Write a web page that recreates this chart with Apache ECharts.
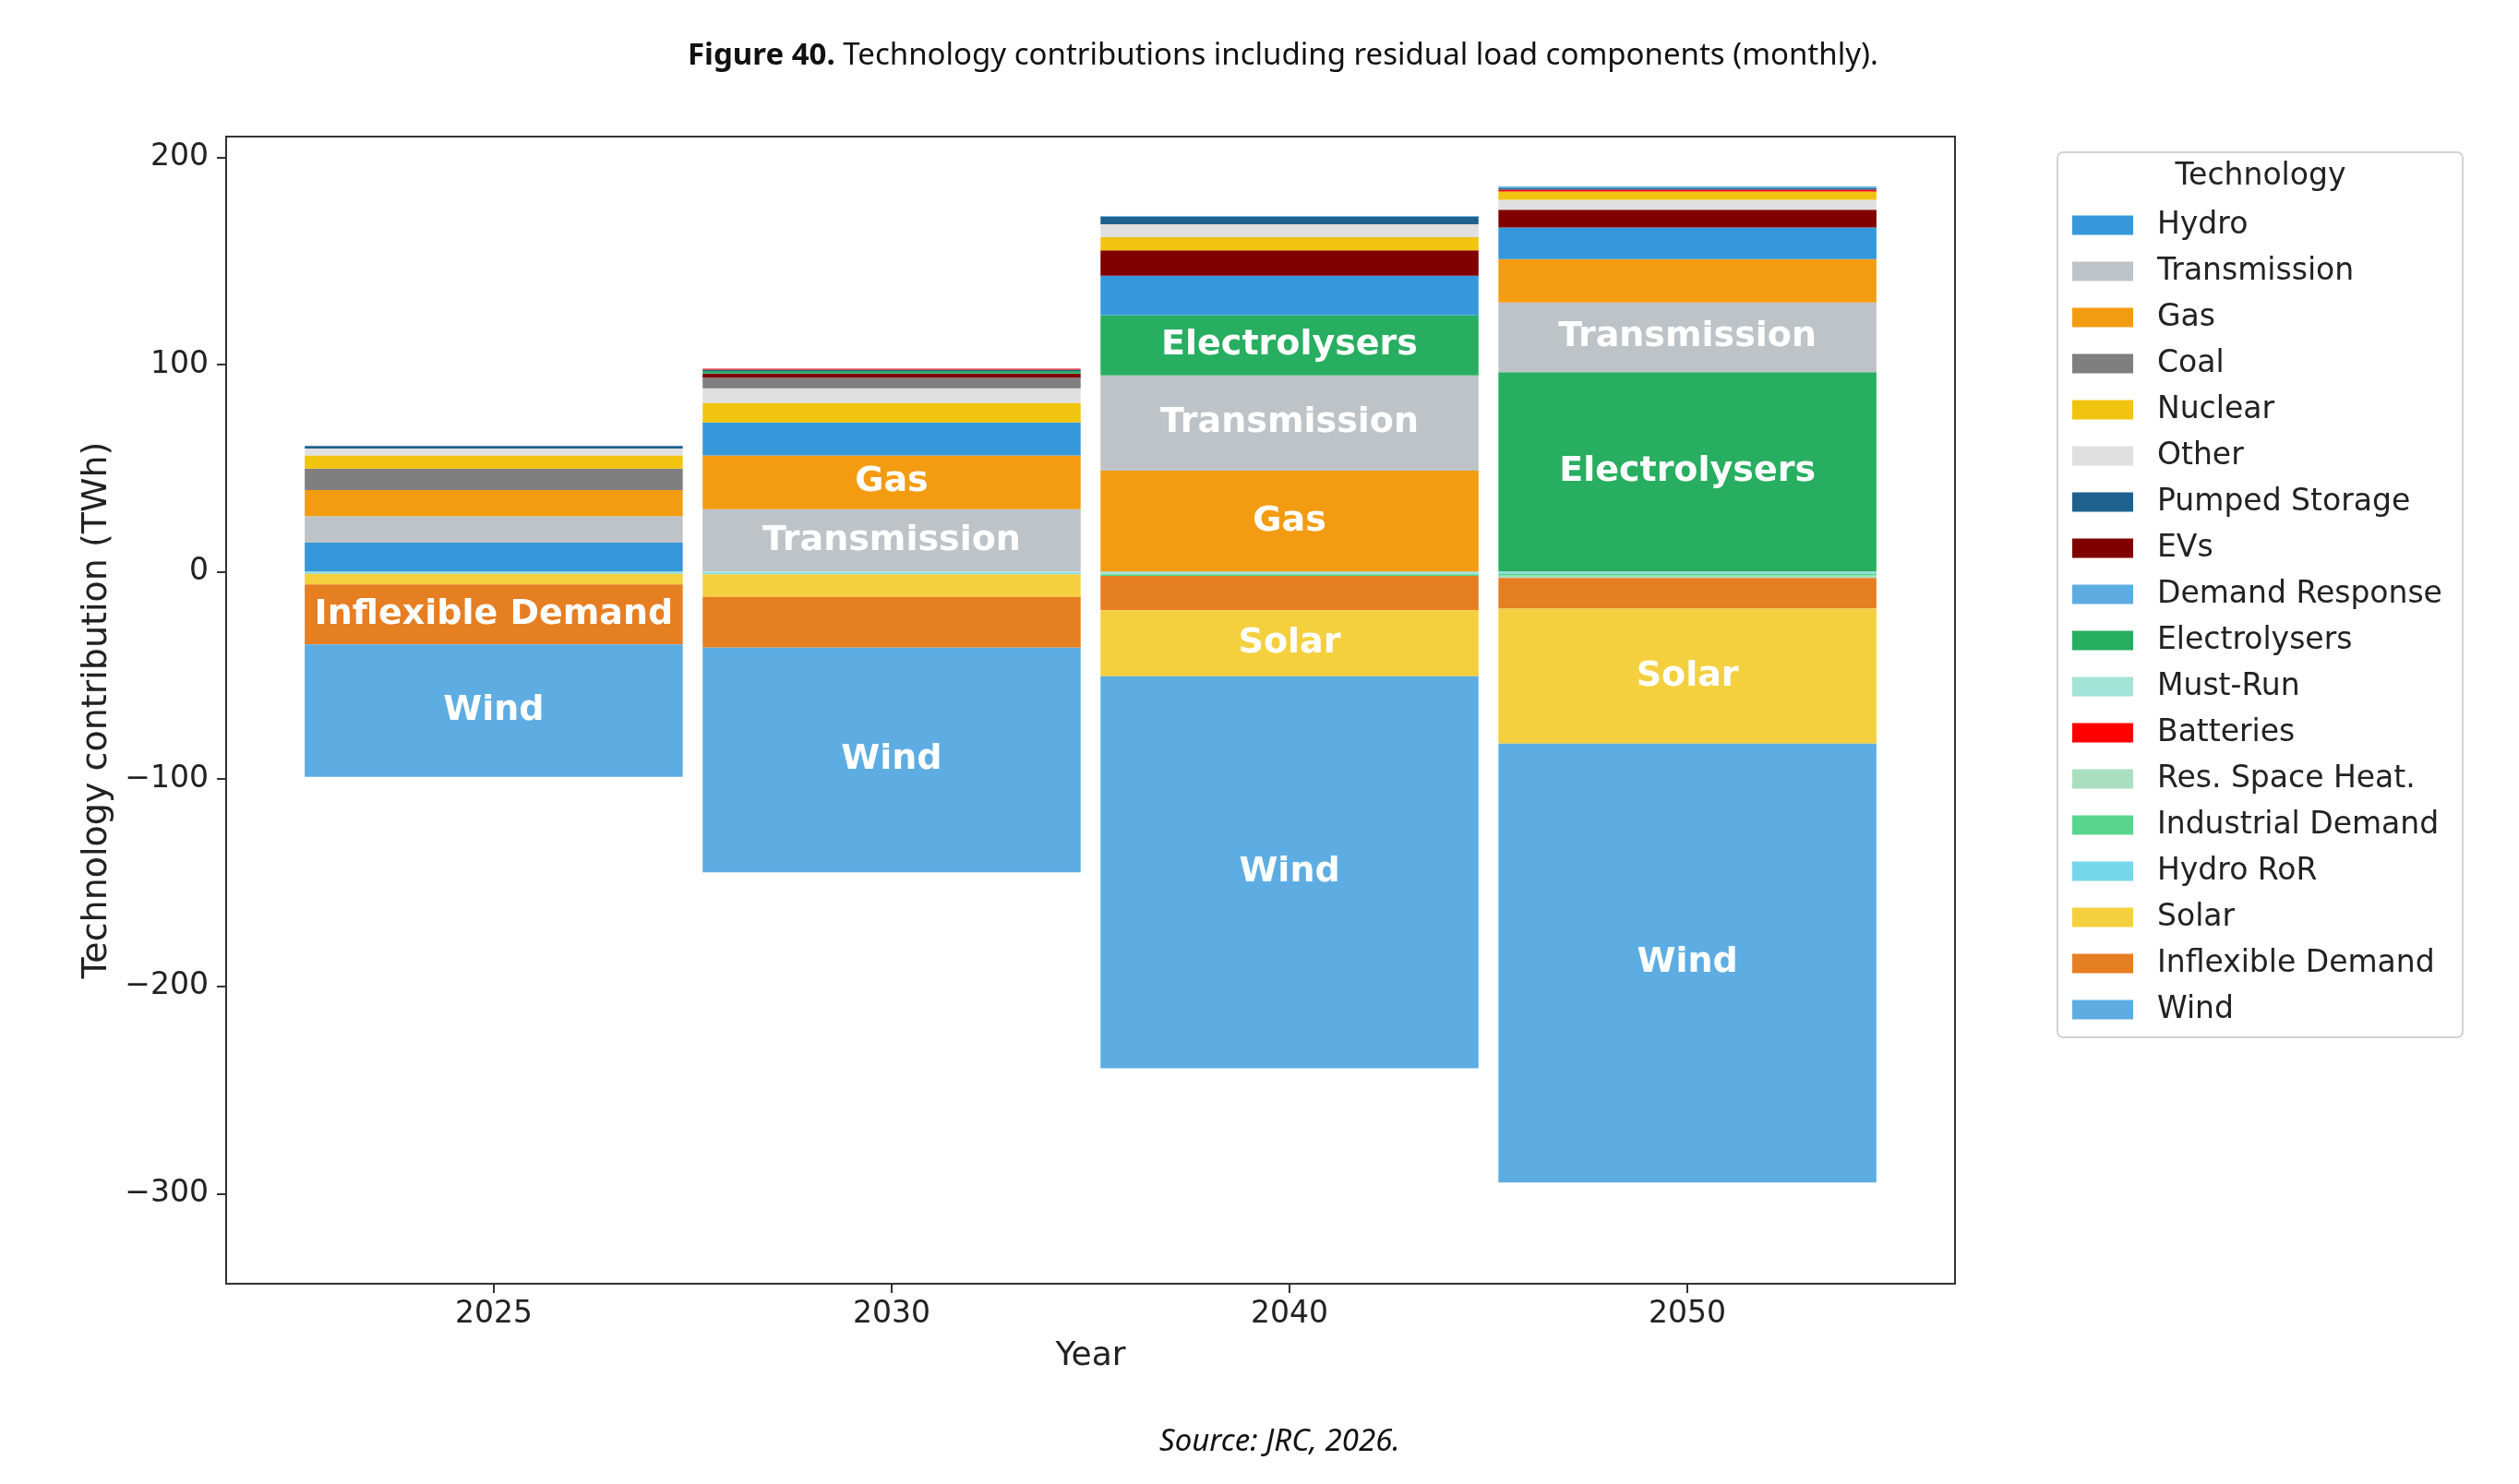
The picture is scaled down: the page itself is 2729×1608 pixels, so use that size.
<!DOCTYPE html>
<html lang="en">
<head>
<meta charset="UTF-8">
<title>Technology contributions including residual load components</title>
<script src="https://cdn.jsdelivr.net/npm/echarts@6/dist/echarts.min.js"></script>
<style>
  html, body { margin: 0; padding: 0; background: #fff; }
  #chart { width: 2729px; height: 1608px; }
</style>
</head>
<body>
<div id="chart"></div>
<script>
// years on the x axis and y tick labels
var years = ['2025', '2030', '2040', '2050'];
var yTicks = [-300, -200, -100, 0, 100, 200];

// legend order
var techs = ['Hydro', 'Transmission', 'Gas', 'Coal', 'Nuclear', 'Other', 'Pumped Storage', 'EVs',
  'Demand Response', 'Electrolysers', 'Must-Run', 'Batteries', 'Res. Space Heat.', 'Industrial Demand',
  'Hydro RoR', 'Solar', 'Inflexible Demand', 'Wind'];
var colors = ['#3498db', '#bdc3c7', '#f39c12', '#7f7f7f', '#f1c40f', '#e0e0e0', '#1f618d', '#800000',
  '#5dade2', '#27ae60', '#a3e4d7', '#ff0000', '#a9dfbf', '#58d68d', '#76d7ea', '#f4d03f', '#e67e22', '#5dade2'];

// TWh, one value per year (2025, 2030, 2040, 2050)
var hydro = [14.1, 15.9, 19.1, 15.2];
var transmission = [12.8, 30.2, 46.0, 33.7];
var gas = [12.5, 26.0, 48.8, 20.9];
var coal = [10.4, 5.1, 0, 0];
var nuclear = [6.4, 9.4, 6.4, 4.05];
var other = [3.3, 7.1, 6.2, 4.75];
var pumpedStorage = [1.2, 0.7, 3.7, 0.8];
var evs = [0, 2.0, 12.2, 8.6];
var demandResponse = [0, 0, 0.3, 0.7];
var electrolysers = [0, 1.2, 29.0, 96.3];
var mustRun = [-0.3, -0.4, -0.3, -0.3];
var batteries = [0, 0.4, 0, 0.9];
var resSpaceHeat = [0, 0, -0.5, -1.2];
var industrialDemand = [0, 0, -0.8, -1.0];
var hydroRoR = [-0.7, -0.8, -0.4, -0.5];
var solar = [-5.1, -10.9, -31.8, -65.1];
var inflexibleDemand = [-28.9, -24.5, -16.6, -14.8];
var wind = [-63.9, -108.4, -189.1, -211.7];

var values = [hydro, transmission, gas, coal, nuclear, other, pumpedStorage, evs, demandResponse,
  electrolysers, mustRun, batteries, resSpaceHeat, industrialDemand, hydroRoR, solar, inflexibleDemand, wind];

// each year is stacked largest value first, so one series per tech per year
var series = [];
years.forEach(function (y, yi) {
  var order = techs.map(function (t, ti) { return ti; });
  order.sort(function (a, b) { return values[b][yi] - values[a][yi]; });
  order.forEach(function (ti) {
    var v = values[ti][yi];
    series.push({
      name: techs[ti],
      type: 'bar',
      stack: 'total',
      barWidth: '95%',
      itemStyle: { color: colors[ti] },
      label: {
        show: Math.abs(v) >= 25,
        position: 'inside',
        formatter: techs[ti],
        color: '#fff',
        fontWeight: 'bold',
        fontSize: 38,
        fontFamily: 'DejaVu Sans'
      },
      data: years.map(function (_, j) { return j === yi ? v : '-'; })
    });
  });
});

var FONT = 'DejaVu Sans';
var axisColor = '#333';
// plot frame (matplotlib axes box) and the category band area inside it
var frame = { left: 245, top: 148, width: 1873, height: 1243 };
var unit = frame.width / 4.345;            // x data range -0.6725 .. 3.6725
var bandLeft = frame.left + 0.1725 * unit;  // edge of first category band (-0.5)

var myChart = echarts.init(document.getElementById('chart'));
myChart.setOption({
  animation: false,
  backgroundColor: '#fff',
  textStyle: { fontFamily: FONT },
  title: [{
    text: '{b|Figure 40.} Technology contributions including residual load components (monthly).',
    left: 745,
    top: 44,
    padding: 0,
    textStyle: {
      fontFamily: 'Noto Sans', fontSize: 33, fontWeight: 'normal', color: '#111',
      rich: { b: { fontFamily: 'Noto Sans', fontSize: 33, fontWeight: 'bold', color: '#111' } }
    }
  }, {
    text: 'Source: JRC, 2026.',
    left: 1256,
    top: 1546,
    padding: 0,
    textStyle: { fontFamily: 'Noto Sans', fontSize: 33, fontStyle: 'italic', fontWeight: 'normal', color: '#111' }
  }],
  grid: {
    left: bandLeft, top: frame.top, width: unit * 4, height: frame.height
  },
  xAxis: {
    type: 'category',
    data: years,
    axisLine: { show: false, onZero: false },
    axisTick: { show: true, alignWithLabel: true, length: 10, lineStyle: { color: axisColor, width: 2 } },
    axisLabel: { fontSize: 33, color: '#222', margin: 17, fontFamily: FONT },
    name: 'Year',
    nameLocation: 'middle',
    nameGap: 61,
    nameTextStyle: { fontSize: 36, color: '#222', fontFamily: FONT }
  },
  yAxis: {
    type: 'value',
    min: -343.5,
    max: 210,
    offset: bandLeft - frame.left,
    splitLine: { show: false },
    axisLine: { show: false, onZero: false },
    axisTick: { show: true, length: 10, customValues: yTicks, lineStyle: { color: axisColor, width: 2 } },
    axisLabel: {
      customValues: yTicks,
      formatter: function (v) { return v < 0 ? '\u2212' + Math.abs(v) : String(v); },
      fontSize: 33, color: '#222', margin: 19, fontFamily: FONT
    },
    name: 'Technology contribution (TWh)',
    nameLocation: 'middle',
    nameGap: 118,
    nameTextStyle: { fontSize: 38, color: '#222', fontFamily: FONT }
  },
  legend: {
    orient: 'vertical',
    left: 2245,
    top: 226,
    padding: 0,
    itemWidth: 66,
    itemHeight: 21,
    itemGap: 14,
    icon: 'rect',
    selectedMode: false,
    data: techs,
    textStyle: { fontSize: 33, lineHeight: 36, color: '#222', padding: [0, 0, 0, 21], fontFamily: FONT }
  },
  graphic: [{
    type: 'rect',
    shape: { x: frame.left, y: frame.top, width: frame.width, height: frame.height },
    style: { fill: 'none', stroke: axisColor, lineWidth: 2 },
    z: 100
  }, {
    type: 'rect',
    shape: { x: 2229, y: 165, width: 439, height: 959, r: 6 },
    style: { fill: 'rgba(255,255,255,0.8)', stroke: '#d3d3d3', lineWidth: 2 },
    z: -1
  }, {
    type: 'text',
    x: 2449,
    y: 191,
    style: { text: 'Technology', fontSize: 33, fontFamily: FONT, fill: '#222', textAlign: 'center', textVerticalAlign: 'middle' }
  }],
  series: series
});
</script>
</body>
</html>
